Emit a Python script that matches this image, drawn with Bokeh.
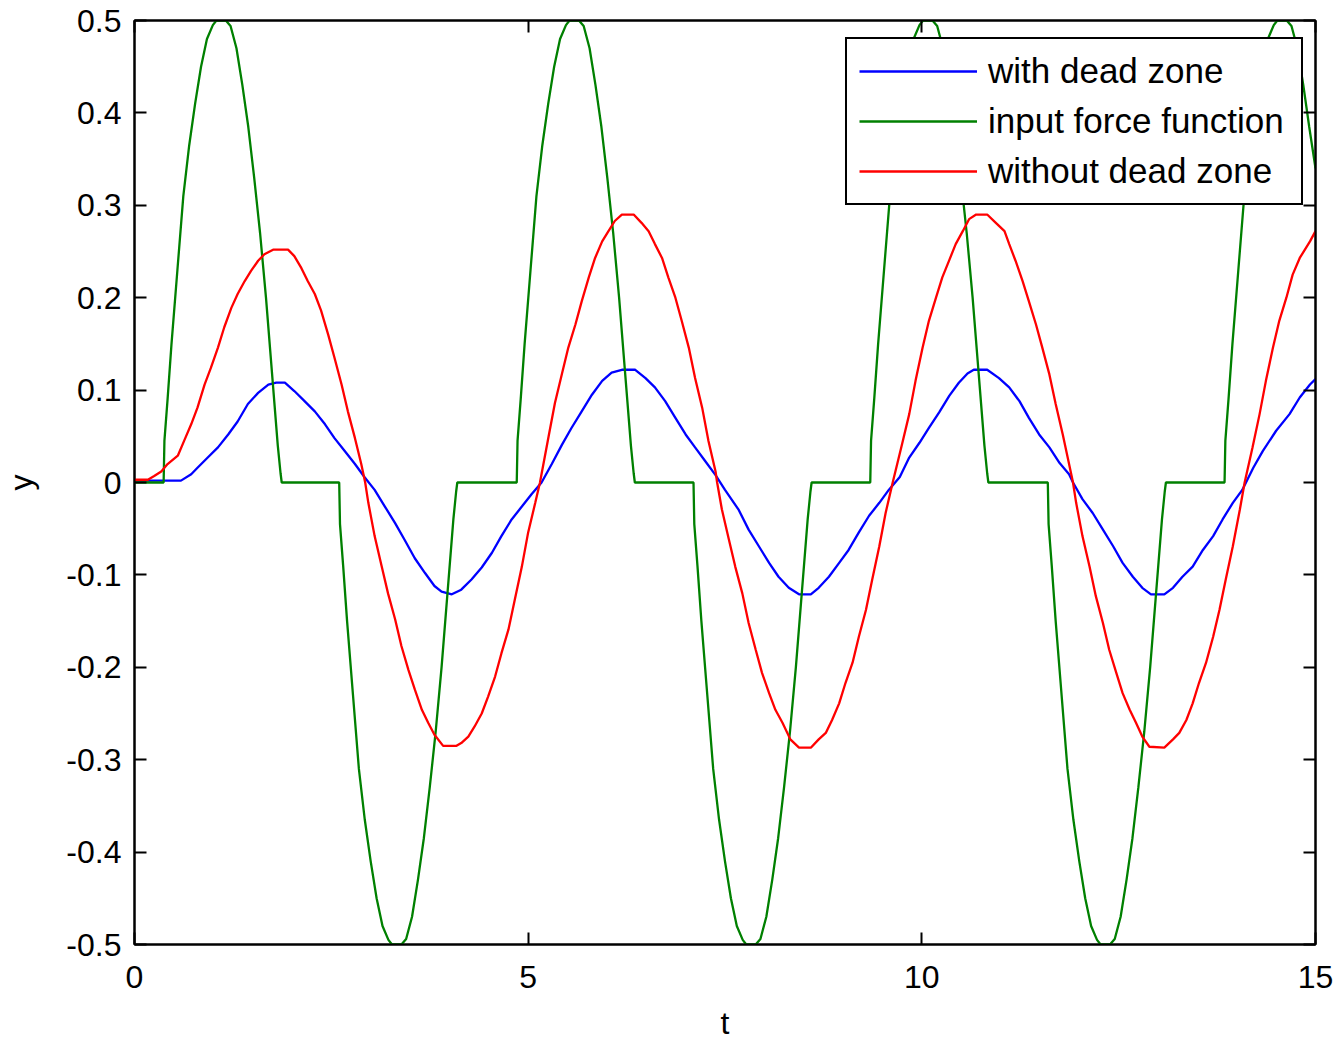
from math import pi
from bokeh.plotting import figure
from bokeh.models import Range1d, LinearAxis, FixedTicker
from bokeh.embed import file_html
from bokeh.resources import INLINE

# ---------------- data ----------------
t_with = [0, 0.59, 0.72, 0.80, 0.93, 1.06, 1.19, 1.31, 1.44, 1.57,
          1.70, 1.80, 1.91, 2.03, 2.16, 2.29, 2.42, 2.54, 2.67, 2.80,
          2.92, 3.05, 3.18, 3.31, 3.43, 3.56, 3.69, 3.81, 3.90, 4.03,
          4.15, 4.28, 4.41, 4.54, 4.66, 4.79, 4.92, 5.04, 5.17, 5.30,
          5.43, 5.55, 5.68, 5.81, 5.94, 6.06, 6.19, 6.36, 6.49, 6.61,
          6.74, 6.87, 7.00, 7.12, 7.25, 7.38, 7.50, 7.67, 7.80, 7.93,
          8.06, 8.18, 8.31, 8.44, 8.59, 8.69, 8.82, 8.95, 9.07, 9.20,
          9.33, 9.46, 9.58, 9.72, 9.84, 9.97, 10.09, 10.22, 10.35, 10.47,
          10.58, 10.66, 10.83, 10.98, 11.11, 11.24, 11.36, 11.49, 11.62, 11.75,
          11.87, 11.92, 12.04, 12.17, 12.30, 12.43, 12.55, 12.68, 12.80, 12.91,
          13.08, 13.19, 13.31, 13.44, 13.57, 13.70, 13.82, 13.95, 14.07, 14.21,
          14.33, 14.50, 14.67, 14.80, 14.93, 15.0]
y_with = [0.002, 0.002, 0.009, 0.016, 0.027, 0.038, 0.052, 0.066, 0.085, 0.097,
          0.106, 0.108, 0.108, 0.099, 0.088, 0.077, 0.063, 0.048, 0.034, 0.020,
          0.006, -0.008, -0.026, -0.044, -0.062, -0.082, -0.098, -0.112, -0.118, -0.121,
          -0.116, -0.105, -0.092, -0.076, -0.058, -0.040, -0.026, -0.013, 0.0, 0.020,
          0.041, 0.059, 0.077, 0.095, 0.110, 0.119, 0.122, 0.122, 0.113, 0.103,
          0.088, 0.070, 0.052, 0.038, 0.023, 0.008, -0.008, -0.029, -0.051, -0.069,
          -0.087, -0.102, -0.114, -0.121, -0.121, -0.114, -0.102, -0.087, -0.073, -0.054,
          -0.036, -0.022, -0.008, 0.006, 0.027, 0.043, 0.059, 0.076, 0.094, 0.108,
          0.118, 0.122, 0.122, 0.113, 0.103, 0.088, 0.070, 0.052, 0.038, 0.021,
          0.009, 0.0, -0.018, -0.033, -0.051, -0.069, -0.087, -0.102, -0.114, -0.121,
          -0.121, -0.114, -0.102, -0.091, -0.073, -0.058, -0.040, -0.022, -0.008, 0.016,
          0.034, 0.056, 0.074, 0.092, 0.106, 0.112]

t_force = [0,
           0.37, 0.38, 0.42, 0.47, 0.545, 0.62, 0.695, 0.77, 0.845, 0.92, 0.995, 1.04,
           1.16, 1.22, 1.295, 1.37, 1.445, 1.52, 1.595, 1.67, 1.745, 1.82, 1.855, 1.87,
           2.60, 2.61, 2.65, 2.70, 2.775, 2.85, 2.925, 3.00, 3.075, 3.15, 3.225, 3.27,
           3.39, 3.45, 3.525, 3.60, 3.675, 3.75, 3.825, 3.90, 3.975, 4.05, 4.085, 4.10,
           4.855, 4.865, 4.905, 4.955, 5.03, 5.105, 5.18, 5.255, 5.33, 5.405, 5.48, 5.525,
           5.645, 5.705, 5.78, 5.855, 5.93, 6.005, 6.08, 6.155, 6.23, 6.305, 6.34, 6.355,
           7.10, 7.11, 7.15, 7.20, 7.275, 7.35, 7.425, 7.50, 7.575, 7.65, 7.725, 7.77,
           7.89, 7.95, 8.025, 8.10, 8.175, 8.25, 8.325, 8.40, 8.475, 8.55, 8.585, 8.60,
           9.345, 9.355, 9.395, 9.445, 9.52, 9.595, 9.67, 9.745, 9.82, 9.895, 9.97, 10.015,
           10.135, 10.195, 10.27, 10.345, 10.42, 10.495, 10.57, 10.645, 10.72, 10.795, 10.83, 10.845,
           11.60, 11.61, 11.65, 11.70, 11.775, 11.85, 11.925, 12.00, 12.075, 12.15, 12.225, 12.27,
           12.39, 12.45, 12.525, 12.60, 12.675, 12.75, 12.825, 12.90, 12.975, 13.05, 13.085, 13.10,
           13.845, 13.855, 13.895, 13.945, 14.02, 14.095, 14.17, 14.245, 14.32, 14.395, 14.47, 14.515,
           14.635, 14.695, 14.77, 14.845, 14.92, 15.0]
y_force = [0,
           0, 0.045, 0.09, 0.15, 0.23, 0.31, 0.365, 0.41, 0.45, 0.48, 0.495, 0.5,
           0.5, 0.494, 0.47, 0.43, 0.385, 0.33, 0.27, 0.2, 0.12, 0.04, 0.01, 0,
           0, -0.045, -0.09, -0.15, -0.23, -0.31, -0.365, -0.41, -0.45, -0.48, -0.495, -0.5,
           -0.5, -0.494, -0.47, -0.43, -0.385, -0.33, -0.27, -0.2, -0.12, -0.04, -0.01, 0,
           0, 0.045, 0.09, 0.15, 0.23, 0.31, 0.365, 0.41, 0.45, 0.48, 0.495, 0.5,
           0.5, 0.494, 0.47, 0.43, 0.385, 0.33, 0.27, 0.2, 0.12, 0.04, 0.01, 0,
           0, -0.045, -0.09, -0.15, -0.23, -0.31, -0.365, -0.41, -0.45, -0.48, -0.495, -0.5,
           -0.5, -0.494, -0.47, -0.43, -0.385, -0.33, -0.27, -0.2, -0.12, -0.04, -0.01, 0,
           0, 0.045, 0.09, 0.15, 0.23, 0.31, 0.365, 0.41, 0.45, 0.48, 0.495, 0.5,
           0.5, 0.494, 0.47, 0.43, 0.385, 0.33, 0.27, 0.2, 0.12, 0.04, 0.01, 0,
           0, -0.045, -0.09, -0.15, -0.23, -0.31, -0.365, -0.41, -0.45, -0.48, -0.495, -0.5,
           -0.5, -0.494, -0.47, -0.43, -0.385, -0.33, -0.27, -0.2, -0.12, -0.04, -0.01, 0,
           0, 0.045, 0.09, 0.15, 0.23, 0.31, 0.365, 0.41, 0.45, 0.48, 0.495, 0.5,
           0.5, 0.494, 0.47, 0.43, 0.385, 0.34]

t_without = [0, 0.17, 0.25, 0.34, 0.42, 0.55, 0.63, 0.72, 0.80, 0.89,
             0.97, 1.06, 1.14, 1.23, 1.31, 1.40, 1.48, 1.57, 1.65, 1.76,
             1.95, 2.03, 2.12, 2.20, 2.29, 2.37, 2.46, 2.54, 2.63, 2.71,
             2.80, 2.88, 2.93, 2.97, 3.05, 3.14, 3.22, 3.31, 3.39, 3.48,
             3.56, 3.65, 3.73, 3.81, 3.92, 4.09, 4.15, 4.24, 4.32, 4.41,
             4.49, 4.58, 4.66, 4.75, 4.83, 4.92, 5.00, 5.09, 5.15, 5.26,
             5.34, 5.43, 5.51, 5.60, 5.68, 5.77, 5.85, 5.94, 6.02, 6.10,
             6.19, 6.34, 6.44, 6.53, 6.61, 6.70, 6.78, 6.87, 6.95, 7.04,
             7.12, 7.21, 7.29, 7.38, 7.40, 7.46, 7.55, 7.63, 7.72, 7.80,
             7.89, 7.97, 8.06, 8.14, 8.23, 8.33, 8.44, 8.59, 8.69, 8.78,
             8.86, 8.95, 9.03, 9.12, 9.20, 9.29, 9.37, 9.46, 9.54, 9.63,
             9.75, 9.84, 9.92, 10.01, 10.09, 10.18, 10.26, 10.35, 10.43, 10.52,
             10.60, 10.69, 10.83, 10.94, 11.05, 11.11, 11.19, 11.28, 11.36, 11.45,
             11.53, 11.62, 11.70, 11.79, 11.87, 11.92, 11.96, 12.04, 12.13, 12.21,
             12.30, 12.38, 12.47, 12.55, 12.64, 12.72, 12.80, 12.89, 13.08, 13.19,
             13.27, 13.36, 13.44, 13.52, 13.61, 13.70, 13.78, 13.86, 13.95, 14.04,
             14.10, 14.20, 14.29, 14.37, 14.46, 14.54, 14.63, 14.71, 14.80, 14.93,
             15.0]
y_without = [0.003, 0.003, 0.007, 0.012, 0.020, 0.029, 0.045, 0.063, 0.081, 0.106,
             0.124, 0.146, 0.168, 0.189, 0.204, 0.218, 0.229, 0.240, 0.247, 0.252,
             0.252, 0.245, 0.232, 0.218, 0.204, 0.186, 0.160, 0.135, 0.106, 0.077,
             0.048, 0.020, 0.0, -0.022, -0.058, -0.091, -0.120, -0.148, -0.177, -0.203,
             -0.224, -0.246, -0.260, -0.273, -0.285, -0.285, -0.282, -0.275, -0.264, -0.250,
             -0.232, -0.210, -0.185, -0.159, -0.127, -0.091, -0.054, -0.022, 0.0, 0.050,
             0.086, 0.118, 0.146, 0.171, 0.196, 0.222, 0.243, 0.261, 0.272, 0.283,
             0.290, 0.290, 0.281, 0.272, 0.258, 0.243, 0.222, 0.200, 0.175, 0.146,
             0.113, 0.081, 0.045, 0.012, 0.0, -0.029, -0.062, -0.091, -0.120, -0.152,
             -0.181, -0.206, -0.228, -0.246, -0.260, -0.278, -0.287, -0.287, -0.278, -0.271,
             -0.257, -0.239, -0.217, -0.195, -0.167, -0.138, -0.105, -0.069, -0.033, 0.0,
             0.042, 0.074, 0.110, 0.146, 0.175, 0.200, 0.222, 0.241, 0.258, 0.272,
             0.285, 0.290, 0.290, 0.281, 0.272, 0.258, 0.240, 0.218, 0.196, 0.171,
             0.146, 0.117, 0.085, 0.052, 0.020, 0.0, -0.022, -0.058, -0.091, -0.123,
             -0.152, -0.181, -0.206, -0.228, -0.246, -0.260, -0.275, -0.286, -0.287, -0.278,
             -0.271, -0.257, -0.239, -0.217, -0.195, -0.167, -0.138, -0.105, -0.069, -0.029,
             0.0, 0.038, 0.074, 0.110, 0.146, 0.175, 0.200, 0.225, 0.243, 0.261,
             0.272]

series_names = ["with dead zone", "input force function", "without dead zone"]

x_ticks = [0, 5, 10, 15]
x_tick_labels = ["0", "5", "10", "15"]
y_ticks = [-0.5, -0.4, -0.3, -0.2, -0.1, 0, 0.1, 0.2, 0.3, 0.4, 0.5]
y_tick_labels = ["-0.5", "-0.4", "-0.3", "-0.2", "-0.1", "0", "0.1", "0.2", "0.3", "0.4", "0.5"]

x_label = "t"
y_label = "y"

# ---------------- figure ----------------
FONT = "Liberation Sans"

p = figure(frame_width=1181, frame_height=924,
           x_range=Range1d(0, 15), y_range=Range1d(-0.5, 0.5),
           min_border_left=134, min_border_right=24,
           min_border_top=20, min_border_bottom=98,
           output_backend="svg", toolbar_location=None)

p.background_fill_color = "white"
p.border_fill_color = "white"
p.xgrid.visible = False
p.ygrid.visible = False
p.outline_line_color = "black"
p.outline_line_width = 2


def style_axis(ax, ticks, labels, show):
    ax.ticker = FixedTicker(ticks=ticks)
    ax.major_tick_in = 12
    ax.major_tick_out = 0
    ax.major_tick_line_width = 2
    ax.major_tick_line_color = "black"
    ax.minor_tick_line_color = None
    ax.axis_line_color = "black"
    ax.axis_line_width = 2
    if show:
        ax.major_label_overrides = {tk: lb for tk, lb in zip(ticks, labels)}
        ax.major_label_text_font = FONT
        ax.major_label_text_font_size = "32px"
        ax.major_label_text_color = "black"
        ax.axis_label_text_font = FONT
        ax.axis_label_text_font_size = "32px"
        ax.axis_label_text_font_style = "normal"
        ax.axis_label_text_color = "black"
    else:
        ax.major_label_overrides = {tk: "" for tk in ticks}
        ax.major_label_text_font_size = "0px"
        ax.major_label_standoff = 0


style_axis(p.xaxis[0], x_ticks, x_tick_labels, True)
p.xaxis[0].major_label_standoff = 21
p.xaxis[0].axis_label = x_label
p.xaxis[0].axis_label_standoff = 14
style_axis(p.yaxis[0], y_ticks, y_tick_labels, True)
p.yaxis[0].major_label_standoff = 13
p.yaxis[0].axis_label = y_label
p.yaxis[0].axis_label_standoff = 24

top_axis = LinearAxis()
style_axis(top_axis, x_ticks, x_tick_labels, False)
p.add_layout(top_axis, "above")
right_axis = LinearAxis()
style_axis(right_axis, y_ticks, y_tick_labels, False)
p.add_layout(right_axis, "right")

p.line(t_with, y_with, line_color="#0000FF", line_width=2.3, legend_label=series_names[0])
p.line(t_force, y_force, line_color="#008000", line_width=2.3, legend_label=series_names[1])
p.line(t_without, y_without, line_color="#FF0000", line_width=2.3, legend_label=series_names[2])

leg = p.legend[0]
leg.location = (711, 739)
leg.margin = 0
leg.padding = 12
leg.spacing = 10
leg.glyph_width = 118
leg.glyph_height = 38
leg.label_height = 38
leg.label_width = 301
leg.label_standoff = 11
leg.label_text_font = FONT
leg.label_text_font_size = "35px"
leg.label_text_color = "black"
leg.border_line_color = "black"
leg.border_line_width = 2
leg.border_line_alpha = 1.0
leg.background_fill_color = "white"
leg.background_fill_alpha = 1.0

open("out.html", "w").write(file_html(p, INLINE))
